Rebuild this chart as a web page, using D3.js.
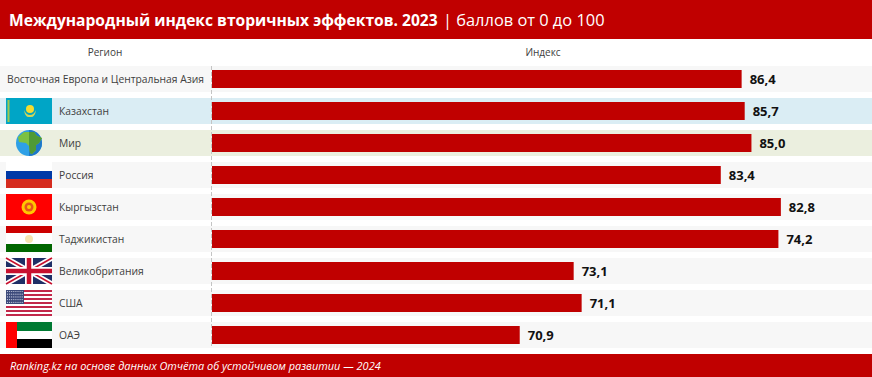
<!DOCTYPE html>
<html>
<head>
<meta charset="utf-8">
<script src="https://cdn.jsdelivr.net/npm/d3@7"></script>
<style>
    html, body { margin: 0; padding: 0; background: #fff; }
    svg { display: block; }
</style>
</head>
<body>
<div id="chart"></div>
<script>
// данные
const regions = ["Восточная Европа и Центральная Азия", "Казахстан", "Мир", "Россия", "Кыргызстан", "Таджикистан", "Великобритания", "США", "ОАЭ"];
const labelValues = ["86,4", "85,7", "85,0", "83,4", "82,8", "74,2", "73,1", "71,1", "70,9"];
// длина столбцов на картинке не совпадает с подписями, поэтому отдельный массив
const barValues = [86.4, 86.9, 88.0, 83.0, 92.8, 92.4, 59.0, 60.3, 50.2];
const rowColors = ["#f7f7f7", "#daedf4", "#ebefdf", "#f7f7f7", "#f7f7f7", "#f7f7f7", "#f7f7f7", "#f7f7f7", "#f7f7f7"];
const flags = ["", "kz", "world", "ru", "kg", "tj", "gb", "us", "ae"];

const width = 872, height = 377;
const red = "#c00000";

const svg = d3.select("#chart").append("svg")
    .attr("width", width)
    .attr("height", height);

svg.append("rect").attr("width", width).attr("height", height).attr("fill", "#fff");

// шапка
svg.append("rect").attr("width", width).attr("height", 39).attr("fill", red);
const title = svg.append("text")
    .attr("y", 25.5)
    .attr("fill", "#fff")
    .style("font-family", "'Open Sans'");
title.append("tspan").attr("x", 9).style("font-weight", 700).style("font-size", "15.6px")
    .text("Международный индекс вторичных эффектов. 2023");
title.append("tspan").attr("x", 443).style("font-size", "16.4px").text("| баллов от 0 до 100");

// подвал
svg.append("rect").attr("y", 354).attr("width", width).attr("height", 23).attr("fill", red);
svg.append("text")
    .attr("x", 10).attr("y", 369.5)
    .attr("fill", "#fff")
    .style("font-family", "'Open Sans'")
    .style("font-style", "italic")
    .style("font-size", "10.95px")
    .text("Ranking.kz на основе данных Отчёта об устойчивом развитии — 2024");

// шкалы
const y = d3.scaleBand().domain(regions).range([66, 348]).paddingInner(6 / 32).paddingOuter(0);
const x = d3.scaleLinear().domain([0, 100]).range([212, 825]);

// заголовки колонок
svg.append("text").attr("x", 105).attr("y", 56).attr("text-anchor", "middle")
    .attr("fill", "#404040").style("font-family", "'Open Sans'").style("font-size", "10px").text("Регион");
svg.append("text").attr("x", 543).attr("y", 56).attr("text-anchor", "middle")
    .attr("fill", "#404040").style("font-family", "'Open Sans'").style("font-size", "10px").text("Индекс");

const rows = svg.append("g").selectAll("g")
    .data(regions)
    .enter()
    .append("g")
    .attr("transform", d => `translate(0,${y(d)})`);

// фон строк
rows.append("rect")
    .attr("width", width)
    .attr("height", y.bandwidth())
    .attr("fill", (d, i) => rowColors[i]);

// столбцы
rows.append("rect")
    .attr("x", x(0))
    .attr("y", 4)
    .attr("width", (d, i) => x(barValues[i]) - x(0))
    .attr("height", 18)
    .attr("fill", red);

// подписи значений
rows.append("text")
    .attr("x", (d, i) => x(barValues[i]) + 8)
    .attr("y", 18)
    .attr("fill", "#111")
    .style("font-family", "'Open Sans'")
    .style("font-weight", 700)
    .style("font-size", "13px")
    .text((d, i) => labelValues[i]);

// названия регионов
rows.append("text")
    .attr("x", (d, i) => i === 0 ? 7 : 59)
    .attr("y", 17)
    .attr("fill", "#404040")
    .style("font-family", "'Open Sans'")
    .style("font-size", "10.3px")
    .text(d => d);

// пунктир между колонками
svg.append("line")
    .attr("x1", 211.5).attr("x2", 211.5)
    .attr("y1", 66).attr("y2", 348)
    .attr("stroke", "#c4c4c4")
    .attr("stroke-dasharray", "4,2");

// флаги, 46x26
function stripes(g, colors, stops) {
    colors.forEach((c, i) => {
        g.append("rect").attr("y", stops[i]).attr("width", 46).attr("height", stops[i + 1] - stops[i]).attr("fill", c);
    });
}

const flagDraw = {
    kz(g) {
        g.append("rect").attr("width", 46).attr("height", 26).attr("fill", "#00a5c6");
        g.append("rect").attr("x", 1.5).attr("y", 2).attr("width", 2).attr("height", 22).attr("fill", "#9fc94e");
        g.append("circle").attr("cx", 24).attr("cy", 11).attr("r", 4).attr("fill", "#f5dc30");
        g.append("path").attr("d", "M18,12 Q19,20 24,19 Q29,20 30,12 Q28,17 24,17 Q20,17 18,12Z").attr("fill", "#cfd65a");
    },
    world(g) {
        g.append("circle").attr("cx", 23).attr("cy", 13).attr("r", 13).attr("fill", "#2ea0e6");
        g.append("path").attr("d", "M23,0 A13,13 0 0 1 23,26Z").attr("fill", "#1f78c8");
        g.append("path").attr("d", "M18,2 L28,2 L31,6 L36,8 L33,13 L30,15 L30,20 L26,24 L24,23 L23,16 L20,13 L13,12 L12,7Z").attr("fill", "#7cc142");
        g.append("path").attr("d", "M23,2 L28,2 L31,6 L36,8 L33,13 L30,15 L30,20 L26,24 L24,23 L23,16Z").attr("fill", "#4f9a36");
    },
    ru(g) { stripes(g, ["#ffffff", "#0039a6", "#d52b1e"], [0, 9, 17, 26]); },
    kg(g) {
        g.append("rect").attr("width", 46).attr("height", 26).attr("fill", "#ff0000");
        g.append("circle").attr("cx", 23).attr("cy", 13).attr("r", 7.5).attr("fill", "#ffc800");
        g.append("circle").attr("cx", 23).attr("cy", 13).attr("r", 4.5).attr("fill", "#e8541a");
        g.append("circle").attr("cx", 23).attr("cy", 13).attr("r", 2).attr("fill", "#ffc800");
    },
    tj(g) {
        stripes(g, ["#cc0000", "#ffffff", "#006600"], [0, 7, 18, 26]);
        g.append("circle").attr("cx", 23).attr("cy", 13).attr("r", 4).attr("fill", "#f6e4b0");
    },
    gb(g) {
        g.append("rect").attr("width", 46).attr("height", 26).attr("fill", "#1f2f66");
        g.append("path").attr("d", "M0,0L46,26M46,0L0,26").attr("stroke", "#fff").attr("stroke-width", 5);
        g.append("path").attr("d", "M0,0L46,26M46,0L0,26").attr("stroke", "#c8102e").attr("stroke-width", 1.6);
        g.append("path").attr("d", "M23,0V26M0,13H46").attr("stroke", "#fff").attr("stroke-width", 8);
        g.append("path").attr("d", "M23,0V26M0,13H46").attr("stroke", "#c8102e").attr("stroke-width", 4.5);
    },
    us(g) {
        const s = d3.scaleBand().domain(d3.range(13)).range([0, 26]);
        d3.range(13).forEach(i => {
            g.append("rect").attr("y", s(i)).attr("width", 46).attr("height", s.bandwidth())
                .attr("fill", i % 2 ? "#ffffff" : "#c2284a");
        });
        g.append("rect").attr("width", 18).attr("height", 14).attr("fill", "#3c4a7a");
        d3.range(5).forEach(r => d3.range(8).forEach(c => {
            g.append("circle").attr("cx", 1.5 + c * 2.1).attr("cy", 1.5 + r * 2.7).attr("r", 0.6).attr("fill", "#cfd3e6");
        }));
    },
    ae(g) {
        stripes(g, ["#007a33", "#ffffff", "#000000"], [0, 9, 17, 26]);
        g.append("rect").attr("width", 11).attr("height", 26).attr("fill", "#ff0000");
    }
};

rows.filter((d, i) => flags[i] !== "")
    .append("g")
    .attr("transform", "translate(6,0)")
    .each(function (d) {
        flagDraw[flags[regions.indexOf(d)]](d3.select(this));
    });
</script>
</body>
</html>
